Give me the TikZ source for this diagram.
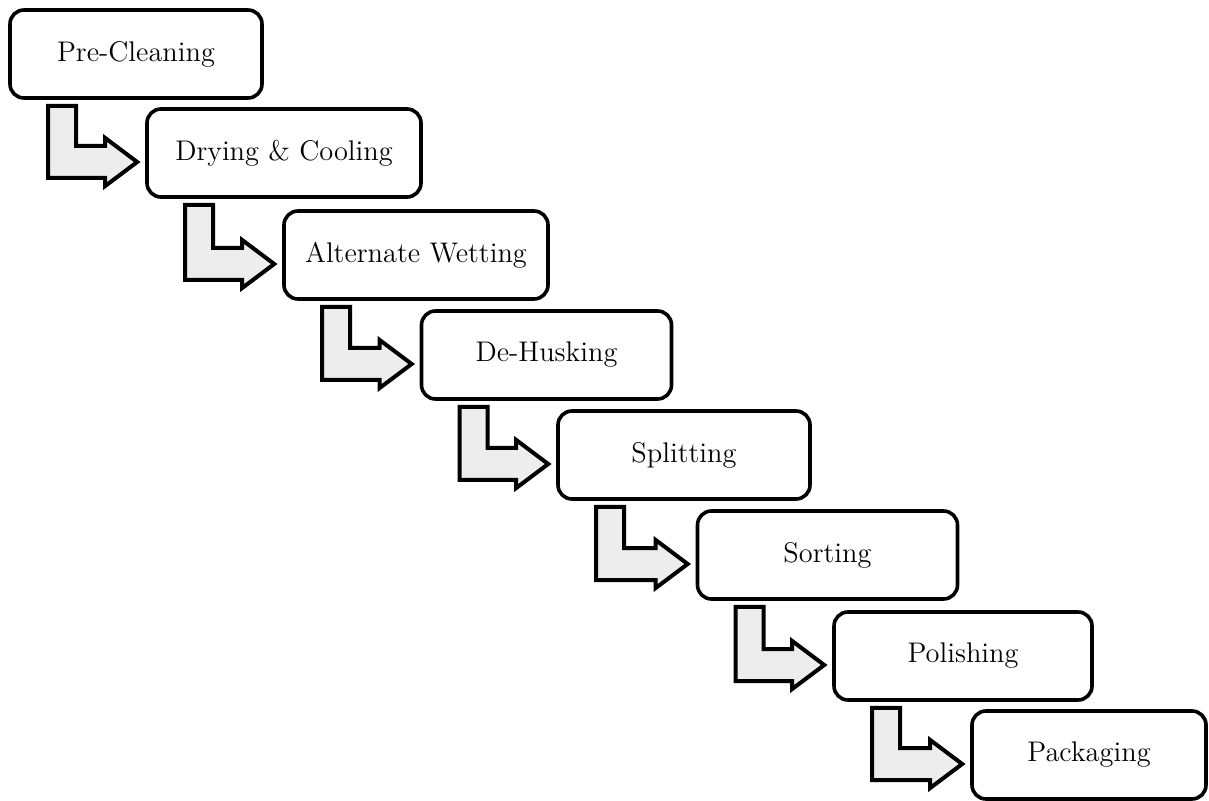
\documentclass[tikz,border=0pt]{standalone}
\usepackage{xcolor}
\usepackage{tikz}
\usetikzlibrary{calc}

\definecolor{arrowfill}{gray}{0.93}

\tikzset{
  procbox/.style={draw, line width=1.8pt, rounded corners=7pt, fill=white,
    minimum width=#1, minimum height=44pt, inner sep=0pt,
    font=\fontsize{14.2}{17}\selectfont},
  steparrow/.style={draw, fill=arrowfill, line width=2pt, line join=miter}
}

% L-shaped step arrow from the bottom of one box to the left side of the next
\newcommand{\flowarrow}[2]{%
  \path ($(#1.south west)+(54,6)$) coordinate (top)
        ($(#2.west)+(-8,9)$) coordinate (tip);
  \draw[steparrow] ($(top)+(14,0)$) |- ($(tip)+(-32,-16)$)
    -- ($(tip)+(-32,-24)$) -- (tip) -- ($(tip)+(-32,24)$)
    -- ($(tip)+(-32,16)$) -| ($(top)+(-14,0)$) -- cycle;
}

\begin{document}
\begin{tikzpicture}[x=0.5pt, y=-0.5pt]
  \useasboundingbox (0,0) rectangle (1209,801);

  \node[procbox=126pt] (preclean) at (136, 54)   {Pre-Cleaning};
  \node[procbox=137pt] (drying)   at (284, 153)  {Drying \& Cooling};
  \node[procbox=132pt] (wetting)  at (416, 255)  {Alternate Wetting};
  \node[procbox=125pt] (dehusk)   at (546.5, 355) {De-Husking};
  \node[procbox=126pt] (split)    at (684, 455)  {Splitting};
  \node[procbox=130pt] (sort)     at (827.5, 555) {Sorting};
  \node[procbox=129pt] (polish)   at (963, 656)  {Polishing};
  \node[procbox=117pt] (pack)     at (1089, 755) {Packaging};

  \foreach \a/\b in {preclean/drying, drying/wetting, wetting/dehusk,
                     dehusk/split, split/sort, sort/polish, polish/pack}
    \flowarrow{\a}{\b};
\end{tikzpicture}
\end{document}
